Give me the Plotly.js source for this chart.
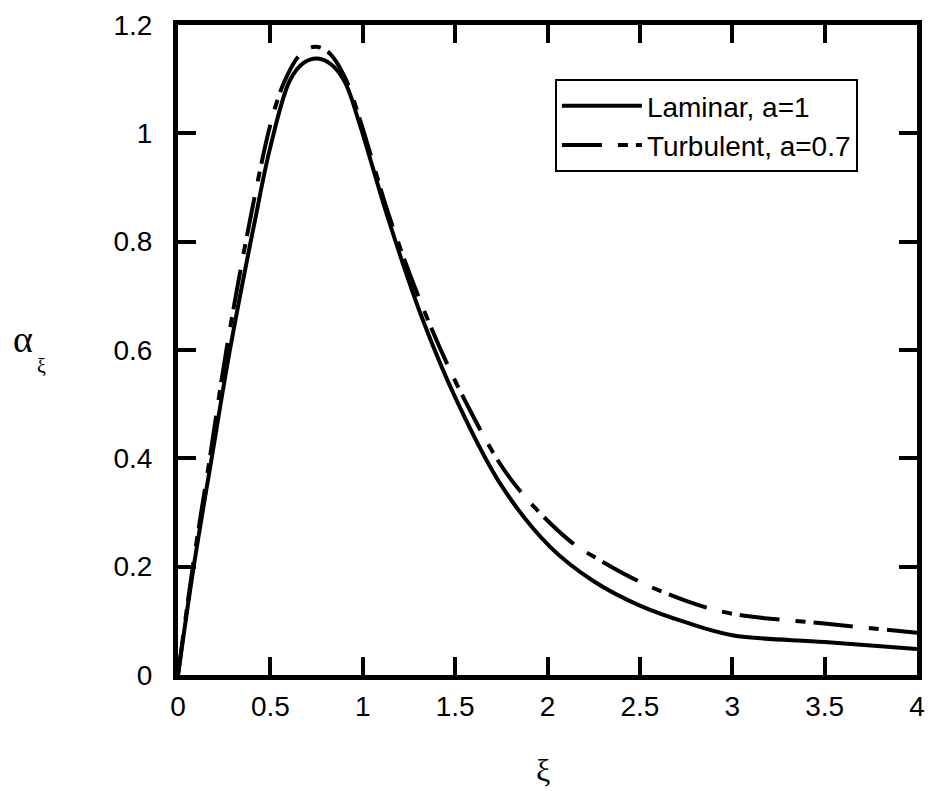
<!DOCTYPE html>
<html>
<head>
<meta charset="utf-8">
<script src="https://cdn.plot.ly/plotly-3.0.1.min.js"></script>
<style>html,body{margin:0;padding:0;background:#fff;}#chart{width:929px;height:791px;}</style>
</head>
<body>
<div id="chart"></div>
<script>
// Laminar, a=1
const lamX = [0, 0.085, 0.182, 0.281, 0.417, 0.5, 0.606, 0.68, 0.754, 0.83, 0.904, 0.976, 1.14, 1.319, 1.508, 1.75, 2.013, 2.25, 2.5, 2.75, 3.0, 3.5, 4.0];
const lamY = [0, 0.2, 0.4, 0.6, 0.84, 0.975, 1.098, 1.13, 1.138, 1.127, 1.094, 1.025, 0.84, 0.661, 0.507, 0.35, 0.237, 0.173, 0.128, 0.097, 0.0735, 0.061, 0.048];
// Turbulent, a=0.7
const turX = [0, 0.08, 0.172, 0.262, 0.39, 0.507, 0.579, 0.66, 0.741, 0.82, 0.904, 0.985, 1.15, 1.346, 1.553, 1.80, 2.116, 2.284, 2.5, 2.75, 3.0, 3.5, 4.0];
const turY = [0, 0.2, 0.4, 0.6, 0.84, 1.025, 1.098, 1.145, 1.160, 1.148, 1.103, 1.025, 0.84, 0.661, 0.507, 0.362, 0.249, 0.212, 0.172, 0.137, 0.113, 0.095, 0.078];

const seriesNames = ['Laminar, a=1', 'Turbulent, a=0.7'];
const xTicks = [0, 0.5, 1, 1.5, 2, 2.5, 3, 3.5, 4];
const yTicks = [0, 0.2, 0.4, 0.6, 0.8, 1, 1.2];

const sans = 'Liberation Sans, Arial, sans-serif';
const serif = 'Liberation Serif, Times New Roman, serif';

const traces = [
  {x: lamX, y: lamY, name: seriesNames[0], mode: 'lines',
   line: {color: '#000', width: 4, shape: 'spline', smoothing: 1}},
  {x: turX, y: turY, name: seriesNames[1], mode: 'lines',
   line: {color: '#000', width: 4, shape: 'spline', smoothing: 1, dash: '40px,16px,10px,8px'}}
];

const axisCommon = {
  showgrid: false, zeroline: false, showline: true, linecolor: '#000', linewidth: 5,
  mirror: 'ticks', ticks: 'inside', ticklen: 18, tickwidth: 4, tickcolor: '#000',
  tickfont: {family: sans, size: 28, color: '#000'}
};

const layout = {
  width: 929, height: 791,
  margin: {l: 178, r: 12, t: 25, b: 116},
  paper_bgcolor: '#fff', plot_bgcolor: '#fff',
  showlegend: true,
  xaxis: Object.assign({}, axisCommon, {range: [0, 4], tickvals: xTicks, ticklabelstandoff: 2}),
  yaxis: Object.assign({}, axisCommon, {range: [0, 1.2], tickvals: yTicks, ticklabelstandoff: 15}),
  legend: {x: 0.51, y: 0.917, xanchor: 'left', yanchor: 'top',
    bgcolor: '#fff', bordercolor: '#000', borderwidth: 2,
    font: {family: sans, size: 28, color: '#000'}, itemwidth: 80, tracegroupgap: 0},
  annotations: [
    {text: 'ξ', xref: 'paper', yref: 'paper', x: 0.494, y: -0.146, xanchor: 'center', yanchor: 'middle',
     showarrow: false, font: {family: serif, size: 32, color: '#000'}},
    {text: 'α', xref: 'paper', yref: 'paper', x: -0.2097, y: 0.517, xanchor: 'center', yanchor: 'middle',
     showarrow: false, font: {family: serif, size: 38, color: '#000'}},
    {text: 'ξ', xref: 'paper', yref: 'paper', x: -0.185, y: 0.475, xanchor: 'center', yanchor: 'middle',
     showarrow: false, font: {family: serif, size: 20, color: '#000'}}
  ]
};

Plotly.newPlot('chart', traces, layout, {displayModeBar: false, staticPlot: true});
</script>
</body>
</html>
